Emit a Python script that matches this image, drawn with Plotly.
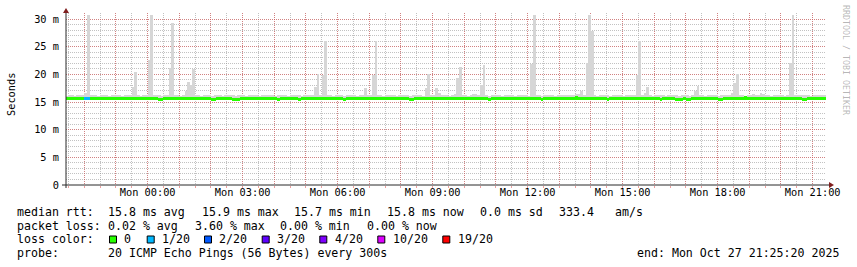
import pandas as pd
import plotly.graph_objects as go

# ---------------- data ----------------
first_step = "2025-10-26 21:25:00"
range_start = "2025-10-26 21:25:20"
range_end = "2025-10-27 21:25:20"
step_seconds = 300

# top of the smoke (max of 20 pings) per 5-minute step, ms
smoke_top = [
    16.1, 16.2, 16.2, 16.1, 16.3, 16.3, 16.2, 16.7, 30.8, 16.2, 16.2, 16.2, 16.1, 16.2, 16.2, 16.2, 16.1, 16.2, 16.2, 16.2, 16.2, 16.1, 16.2, 16.2,
    16.2, 17.7, 20.5, 16.2, 16.1, 16.2, 16.2, 22.6, 30.8, 16.2, 16.2, 16.2, 16.1, 16.2, 16.2, 21.1, 29.3, 16.2, 16.2, 16.1, 16.2, 17.0, 18.7, 18.0,
    21.0, 16.2, 16.2, 16.1, 16.2, 16.2, 16.2, 16.1, 16.2, 16.2, 16.2, 16.1, 16.2, 16.2, 16.2, 16.2, 16.1, 16.2, 16.2, 16.2, 16.1, 16.2, 16.2, 16.2,
    16.2, 16.1, 16.2, 16.2, 16.3, 16.2, 16.2, 16.1, 16.2, 16.2, 16.2, 16.2, 16.1, 16.2, 16.2, 16.3, 16.2, 16.1, 16.2, 16.2, 16.2, 16.2, 17.8, 20.1,
    16.3, 19.9, 26.0, 16.2, 16.2, 16.1, 16.2, 16.2, 16.2, 16.1, 16.2, 16.2, 16.2, 16.2, 16.1, 16.2, 16.2, 17.5, 16.2, 16.2, 19.9, 26.0, 16.2, 16.2,
    16.1, 16.2, 16.2, 16.2, 16.2, 16.1, 16.2, 16.2, 16.3, 16.2, 16.1, 16.2, 16.2, 16.2, 16.2, 16.1, 17.5, 20.1, 16.2, 16.2, 17.5, 16.6, 16.2, 16.2,
    16.2, 16.1, 16.2, 16.5, 19.3, 21.3, 16.2, 16.2, 16.1, 16.2, 16.4, 16.4, 16.2, 18.1, 21.6, 16.2, 16.1, 16.2, 16.2, 16.2, 16.2, 16.1, 16.2, 16.2,
    16.2, 16.2, 16.1, 16.2, 16.2, 16.2, 16.2, 16.1, 21.9, 30.7, 16.2, 16.2, 16.1, 16.2, 16.2, 16.2, 16.2, 16.1, 16.2, 16.2, 16.2, 16.3, 16.2, 16.2,
    16.2, 16.4, 16.4, 17.0, 16.2, 22.0, 30.8, 27.9, 16.2, 16.1, 16.2, 16.2, 16.2, 16.2, 16.1, 16.2, 16.2, 16.2, 16.2, 16.1, 16.2, 16.2, 16.2, 16.2,
    19.9, 26.0, 16.2, 16.6, 17.8, 16.2, 16.1, 16.2, 16.2, 16.2, 16.2, 16.1, 16.2, 16.2, 16.2, 16.2, 16.1, 16.2, 16.2, 16.2, 16.1, 16.2, 16.9, 17.9,
    16.2, 16.2, 16.1, 16.2, 16.2, 16.2, 16.2, 16.1, 16.2, 16.2, 16.2, 16.2, 16.6, 18.4, 20.1, 16.2, 16.2, 16.1, 16.2, 16.2, 16.4, 16.2, 16.2, 16.6,
    16.5, 16.2, 16.2, 16.1, 16.2, 16.2, 16.2, 16.2, 16.1, 16.2, 22.0, 30.8, 16.2, 16.2, 16.2, 16.3, 16.2, 16.2, 16.1, 16.2, 16.2, 16.2, 16.2, 16.2,
]

# median rtt per step, ms
median_rtt = [
    15.8, 15.8, 15.8, 15.8, 15.8, 15.8, 15.8, 15.8, 15.8, 15.8, 15.8, 15.8, 15.8, 15.8, 15.8, 15.8, 15.8, 15.8, 15.8, 15.8, 15.8, 15.8, 15.8, 15.8,
    15.8, 15.8, 15.8, 15.8, 15.8, 15.8, 15.8, 15.8, 15.8, 15.8, 15.8, 15.7, 15.7, 15.8, 15.8, 15.8, 15.8, 15.8, 15.8, 15.8, 15.8, 15.8, 15.8, 15.8,
    15.8, 15.8, 15.8, 15.8, 15.8, 15.8, 15.8, 15.7, 15.7, 15.8, 15.8, 15.8, 15.8, 15.8, 15.8, 15.7, 15.7, 15.7, 15.8, 15.8, 15.8, 15.8, 15.8, 15.8,
    15.8, 15.8, 15.8, 15.8, 15.8, 15.8, 15.8, 15.8, 15.7, 15.8, 15.8, 15.8, 15.8, 15.8, 15.8, 15.8, 15.7, 15.8, 15.8, 15.8, 15.8, 15.8, 15.8, 15.8,
    15.8, 15.8, 15.8, 15.8, 15.8, 15.8, 15.8, 15.8, 15.8, 15.7, 15.8, 15.8, 15.8, 15.8, 15.8, 15.8, 15.8, 15.8, 15.8, 15.8, 15.8, 15.8, 15.8, 15.8,
    15.8, 15.8, 15.8, 15.8, 15.8, 15.8, 15.8, 15.8, 15.8, 15.8, 15.7, 15.7, 15.8, 15.8, 15.8, 15.8, 15.8, 15.8, 15.8, 15.8, 15.8, 15.8, 15.8, 15.8,
    15.8, 15.8, 15.8, 15.8, 15.8, 15.8, 15.8, 15.8, 15.8, 15.8, 15.8, 15.8, 15.8, 15.8, 15.8, 15.8, 15.7, 15.8, 15.8, 15.8, 15.8, 15.8, 15.8, 15.8,
    15.8, 15.8, 15.8, 15.8, 15.8, 15.8, 15.8, 15.8, 15.8, 15.8, 15.8, 15.8, 15.7, 15.8, 15.8, 15.8, 15.8, 15.8, 15.8, 15.8, 15.8, 15.8, 15.8, 15.8,
    15.8, 15.9, 15.8, 15.8, 15.8, 15.8, 15.8, 15.8, 15.8, 15.8, 15.8, 15.8, 15.8, 15.7, 15.8, 15.8, 15.8, 15.8, 15.8, 15.8, 15.8, 15.8, 15.8, 15.8,
    15.8, 15.8, 15.8, 15.8, 15.8, 15.8, 15.8, 15.8, 15.8, 15.7, 15.8, 15.8, 15.8, 15.8, 15.8, 15.7, 15.7, 15.7, 15.8, 15.7, 15.7, 15.8, 15.8, 15.8,
    15.8, 15.8, 15.8, 15.8, 15.8, 15.8, 15.8, 15.7, 15.7, 15.8, 15.8, 15.8, 15.8, 15.8, 15.8, 15.8, 15.8, 15.9, 15.8, 15.8, 15.8, 15.8, 15.8, 15.8,
    15.8, 15.8, 15.8, 15.8, 15.8, 15.8, 15.8, 15.8, 15.8, 15.8, 15.8, 15.8, 15.8, 15.8, 15.8, 15.7, 15.7, 15.8, 15.8, 15.8, 15.8, 15.8, 15.8, 15.8,
]

# lost pings (of 20) per step
loss_count = [
    0, 0, 0, 0, 0, 0, 0, 1, 1, 0, 0, 0, 0, 0, 0, 0, 0, 0, 0, 0, 0, 0, 0, 0,
    0, 0, 0, 0, 0, 0, 0, 0, 0, 0, 0, 0, 0, 0, 0, 0, 0, 0, 0, 0, 0, 0, 0, 0,
    0, 0, 0, 0, 0, 0, 0, 0, 0, 0, 0, 0, 0, 0, 0, 0, 0, 0, 0, 0, 0, 0, 0, 0,
    0, 0, 0, 0, 0, 0, 0, 0, 0, 0, 0, 0, 0, 0, 0, 0, 0, 0, 0, 0, 0, 0, 0, 0,
    0, 0, 0, 0, 0, 0, 0, 0, 0, 0, 0, 0, 0, 0, 0, 0, 0, 0, 0, 0, 0, 0, 0, 0,
    0, 0, 0, 0, 0, 0, 0, 0, 0, 0, 0, 0, 0, 0, 0, 0, 0, 0, 0, 0, 0, 0, 0, 0,
    0, 0, 0, 0, 0, 0, 0, 0, 0, 0, 0, 0, 0, 0, 0, 0, 0, 0, 0, 0, 0, 0, 0, 0,
    0, 0, 0, 0, 0, 0, 0, 0, 0, 0, 0, 0, 0, 0, 0, 0, 0, 0, 0, 0, 0, 0, 0, 0,
    0, 0, 0, 0, 0, 0, 0, 0, 0, 0, 0, 0, 0, 0, 0, 0, 0, 0, 0, 0, 0, 0, 0, 0,
    0, 0, 0, 0, 0, 0, 0, 0, 0, 0, 0, 0, 0, 0, 0, 0, 0, 0, 0, 0, 0, 0, 0, 0,
    0, 0, 0, 0, 0, 0, 0, 0, 0, 0, 0, 0, 0, 0, 0, 0, 0, 0, 0, 0, 0, 0, 0, 0,
    0, 0, 0, 0, 0, 0, 0, 0, 0, 0, 0, 0, 0, 0, 0, 0, 0, 0, 0, 0, 0, 0, 0, 0,
]

loss_labels = ["0", "1/20", "2/20", "3/20", "4/20", "10/20", "19/20"]
loss_thresholds = [0, 1, 2, 3, 4, 10, 19]
loss_colors = ["#26ff00", "#00b8ff", "#0059ff", "#5e00ff", "#7e00ff", "#dd00ff", "#ff0000"]

y_tick_vals = [0, 5, 10, 15, 20, 25, 30]
y_tick_text = ["0", "5 m", "10 m", "15 m", "20 m", "25 m", "30 m"]

x_label_times = ["2025-10-27 00:00", "2025-10-27 03:00", "2025-10-27 06:00", "2025-10-27 09:00",
                 "2025-10-27 12:00", "2025-10-27 15:00", "2025-10-27 18:00", "2025-10-27 21:00"]
x_label_text = ["Mon 00:00", "Mon 03:00", "Mon 06:00", "Mon 09:00",
                "Mon 12:00", "Mon 15:00", "Mon 18:00", "Mon 21:00"]

rtt_stats = ["15.8 ms avg", "15.9 ms max", "15.7 ms min", "15.8 ms now", "0.0 ms sd", "333.4", "am/s"]
loss_stats = ["0.02 % avg", "3.60 % max", "0.00 % min", "0.00 % now"]
probe_text = "20 ICMP Echo Pings (56 Bytes) every 300s"
end_text = "end: Mon Oct 27 21:25:20 2025"

# ---------------- layout constants ----------------
W, H = 857, 267
L, R, T, B = 66, 826, 13, 185
MONO = "DejaVu Sans Mono"
SMOKE = "#d6d6d6"
GRID = "rgba(143,143,143,0.55)"
MGRID = "rgba(222,79,79,0.55)"
AXIS = "rgb(40,40,40)"
ARROW = "rgb(128,31,31)"


def px(x):
    return (x - L) / (R - L)


def py(y):
    return (B - y) / (B - T)


step_start = pd.date_range(first_step, periods=len(smoke_top), freq=f"{step_seconds}s")
step_mid = step_start + pd.Timedelta(seconds=step_seconds / 2)
bar_w = step_seconds * 1000


def loss_color(n):
    c = loss_colors[0]
    for t, col in zip(loss_thresholds, loss_colors):
        if n >= t:
            c = col
    return c


fig = go.Figure()

# smoke
fig.add_trace(go.Bar(
    x=step_mid, base=median_rtt,
    y=[t - m for t, m in zip(smoke_top, median_rtt)],
    width=bar_w, marker=dict(color=SMOKE, line=dict(width=0)),
    hoverinfo="skip", showlegend=False,
))
# median line (3 px thick, coloured by loss)
LINE_T = 0.55
fig.add_trace(go.Bar(
    x=step_mid, base=[m - 0.45 for m in median_rtt], y=[LINE_T] * len(median_rtt),
    width=bar_w, marker=dict(color=[loss_color(n) for n in loss_count], line=dict(width=0)),
    hoverinfo="skip", showlegend=False,
))

hours = pd.date_range("2025-10-26 22:00", "2025-10-27 21:00", freq="1h")
half_hours = pd.date_range("2025-10-26 21:30", "2025-10-27 21:00", freq="30min")
label_map = dict(zip(pd.to_datetime(x_label_times), x_label_text))
tick_text = [label_map.get(h, "") for h in hours]

fig.update_layout(
    width=W, height=H,
    margin=dict(l=L, r=W - R, t=T, b=H - B, pad=0),
    paper_bgcolor="white", plot_bgcolor="white",
    barmode="overlay", bargap=0, showlegend=False,
    font=dict(family=MONO, color="black"),
    xaxis=dict(
        type="date", range=[range_start, range_end], fixedrange=True,
        tickmode="array", tickvals=list(hours), ticktext=tick_text,
        showgrid=True, gridcolor=MGRID, griddash="1px,1px", gridwidth=1,
        ticks="",
        tickfont=dict(family=MONO, size=10.3, color="black"),
        minor=dict(tickmode="array", tickvals=list(half_hours), showgrid=True,
                   gridcolor=GRID, griddash="1px,1px", gridwidth=1,
                   ticks="outside", ticklen=2, tickcolor=MGRID),
        showline=False, zeroline=False,
    ),
    yaxis=dict(
        range=[0, (B - T) / ((B - 19) / 30)], fixedrange=True,
        tickmode="array", tickvals=y_tick_vals, ticktext=y_tick_text,
        showgrid=True, gridcolor=MGRID, griddash="1px,1px", gridwidth=1,
        ticks="outside", ticklen=4, tickcolor="rgba(0,0,0,0)",
        tickfont=dict(family=MONO, size=10.3, color="black"),
        minor=dict(dtick=1, showgrid=True, gridcolor=GRID, griddash="1px,1px", gridwidth=1),
        showline=False, zeroline=False,
    ),
)

shapes = []
# axes
shapes.append(dict(type="line", xref="paper", yref="paper", x0=px(66), x1=px(66), y0=py(188), y1=py(12),
                   line=dict(color=AXIS, width=1)))
shapes.append(dict(type="line", xref="paper", yref="paper", x0=px(62), x1=px(830), y0=py(185), y1=py(185),
                   line=dict(color=AXIS, width=1)))
# arrows
shapes.append(dict(type="path", xref="paper", yref="paper",
                   path=f"M {px(63)},{py(13)} L {px(69)},{py(13)} L {px(66)},{py(8)} Z",
                   fillcolor=ARROW, line=dict(color=ARROW, width=0)))
shapes.append(dict(type="path", xref="paper", yref="paper",
                   path=f"M {px(829)},{py(182)} L {px(829)},{py(188)} L {px(834)},{py(185)} Z",
                   fillcolor=ARROW, line=dict(color=ARROW, width=0)))

ann = []
LEG = 11.6


def text(x, y, s, size=LEG, **kw):
    ann.append(dict(xref="paper", yref="paper", x=px(x), y=py(y), text=s, showarrow=False,
                    xanchor=kw.pop("xanchor", "left"), yanchor="middle", borderpad=0,
                    font=dict(family=MONO, size=size, color=kw.pop("color", "black")), **kw))


# legend lines
y1, y2, y3, y4 = 211.5, 225.5, 239.5, 253.0
text(16, y1, "median rtt:")
for xpos, s in zip([107.3, 200.7, 293.3, 386.0, 479.3, 558.3, 614.0], rtt_stats):
    text(xpos, y1, s)
text(16, y2, "packet loss:")
for xpos, s in zip([107.3, 194.0, 279.3, 366.0], loss_stats):
    text(xpos, y2, s)
text(16, y3, "loss color:")
box_x = [109.0, 146.7, 204.0, 261.7, 319.3, 377.3, 442.3]
for bx, lab, col in zip(box_x, loss_labels, loss_colors):
    shapes.append(dict(type="rect", xref="paper", yref="paper",
                       x0=px(bx + 0.5), x1=px(bx + 7.5), y0=py(243), y1=py(236),
                       fillcolor=col, line=dict(color="black", width=1)))
    text(bx + 14.3, y3, lab)
text(16, y4, "probe:")
text(107.3, y4, probe_text)
text(840, y4, end_text, xanchor="right")

# y-axis title
text(11, 95, "Seconds", size=10.3, xanchor="center", textangle=-90)
# watermark
text(846, 60, "RRDTOOL / TOBI OETIKER", size=8.3, xanchor="center", textangle=90,
     color="rgba(0,0,0,0.3)")

fig.update_layout(shapes=shapes, annotations=ann)
fig.write_html("out.html")
